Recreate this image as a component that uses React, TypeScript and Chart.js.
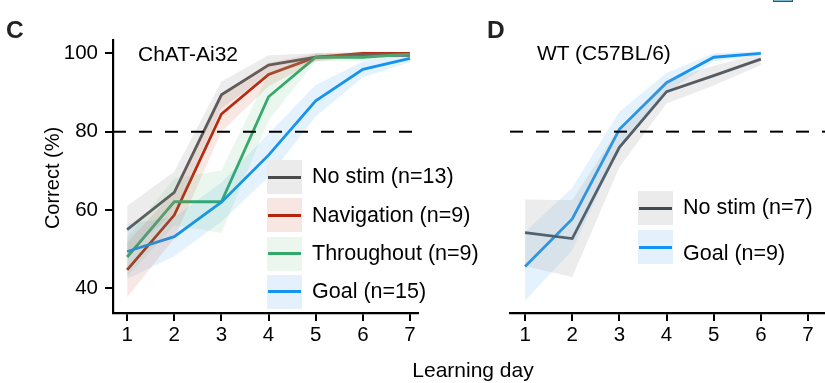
import React, { useEffect, useRef } from "react";
import { Chart, registerables } from "chart.js";

Chart.register(...registerables);

// ---------- data ----------
const leftDays = [1, 2, 3, 4, 5, 6, 7];
const rightDays = [1, 2, 3, 4, 5, 6];
const xTickLabels = [1, 2, 3, 4, 5, 6, 7];
const yTickLabels = [40, 60, 80, 100];
const criterion = 80;

// Panel C (ChAT-Ai32)
const cNoStim = [55, 64.5, 89.4, 97, 99, 99.5, 99.5];
const cNoStimSem = [6, 5.3, 3.4, 2.5, 1, 0.5, 0.5];
const cNavigation = [44.7, 58.7, 84.5, 94.6, 99, 100, 100];
const cNavigationSem = [7, 6, 4.5, 3, 1, 0.4, 0.3];
const cThroughout = [48, 62.1, 62.1, 88.9, 99, 99, 99.8];
const cThroughoutSem = [5, 6, 8, 6, 1, 1, 0.5];
const cGoal = [49.4, 53.2, 62, 74, 87.9, 95.9, 98.7];
const cGoalSem = [7, 5, 5, 5.5, 4, 2, 1];

// Panel D (WT C57BL/6)
const dNoStim = [54.2, 52.7, 76, 90.2, 94.3, 98.5];
const dNoStimSem = [8.5, 9.8, 5, 3, 2.5, 1.5];
const dGoal = [45.6, 57.7, 80.6, 92.5, 99, 100];
const dGoalSem = [8.8, 8, 4.5, 2.5, 1, 0.5];

const leftLegend = ["No stim (n=13)", "Navigation (n=9)", "Throughout (n=9)", "Goal (n=15)"];
const rightLegend = ["No stim (n=7)", "Goal (n=9)"];

// ---------- styles ----------
const FONT = "'Liberation Sans', Arial, Helvetica, sans-serif";
const COL = {
  gray: "#4a4a4a",
  grayD: "#434a50",
  red: "#b3260c",
  green: "#34a86a",
  blue: "#1493f0",
};
const BAND = {
  gray: "rgba(160,160,160,0.2)",
  red: "rgba(200,80,50,0.13)",
  green: "rgba(60,180,100,0.11)",
  blue: "rgba(30,150,240,0.12)",
};
const BOX = {
  gray: "#ebebeb",
  red: "#f7e6e1",
  green: "#eaf6ee",
  blue: "#e4f1fc",
};

function pts(days: number[], vals: number[]) {
  return days.map((d, i) => ({ x: d, y: vals[i] }));
}

function bandSets(days: number[], vals: number[], sem: number[], color: string) {
  return [
    {
      data: pts(days, vals.map((v, i) => Math.min(100.6, v + sem[i]))),
      borderWidth: 0,
      pointRadius: 0,
      fill: false,
      tension: 0,
    },
    {
      data: pts(days, vals.map((v, i) => v - sem[i])),
      borderWidth: 0,
      pointRadius: 0,
      fill: "-1",
      backgroundColor: color,
      tension: 0,
    },
  ];
}

function lineSet(days: number[], vals: number[], color: string) {
  return {
    data: pts(days, vals),
    borderColor: color,
    borderWidth: 2.8,
    pointRadius: 0,
    fill: false,
    tension: 0,
  };
}

const dashedPlugin = {
  id: "criterionLine",
  afterDatasetsDraw(chart: any) {
    const { ctx, chartArea, scales } = chart;
    const y = scales.y.getPixelForValue(criterion);
    ctx.save();
    ctx.strokeStyle = "#000";
    ctx.lineWidth = 2;
    ctx.setLineDash([13, 13]);
    ctx.beginPath();
    ctx.moveTo(chartArea.left, y);
    ctx.lineTo(chartArea.right, y);
    ctx.stroke();
    ctx.restore();
  },
};

function makeOptions(xMin: number, xMax: number, showY: boolean, padLeft: number, padRight: number) {
  return {
    responsive: false,
    animation: false as const,
    maintainAspectRatio: false,
    layout: { padding: { left: padLeft, right: padRight, top: 40, bottom: 0 } },
    plugins: { legend: { display: false }, tooltip: { enabled: false } },
    scales: {
      x: {
        type: "linear" as const,
        min: xMin,
        max: xMax,
        afterBuildTicks: (s: any) => {
          s.ticks = xTickLabels.map((v) => ({ value: v }));
        },
        afterFit: (s: any) => {
          s.height = 70;
        },
        ticks: {
          color: "#000",
          font: { family: FONT, size: 20.5 },
          padding: 2,
          maxRotation: 0,
          autoSkip: false,
        },
        grid: {
          display: true,
          drawOnChartArea: false,
          drawTicks: true,
          tickLength: 8,
          color: "#000",
          lineWidth: 2,
        },
        border: { display: true, color: "#000", width: 2.2 },
      },
      y: {
        type: "linear" as const,
        display: showY,
        min: 33.7,
        max: 103.4,
        afterBuildTicks: (s: any) => {
          s.ticks = yTickLabels.map((v) => ({ value: v }));
        },
        afterFit: (s: any) => {
          s.width = showY ? 113 : 0;
        },
        ticks: {
          color: "#000",
          font: { family: FONT, size: 20.5 },
          padding: 7,
        },
        grid: {
          display: true,
          drawOnChartArea: false,
          drawTicks: true,
          tickLength: 8,
          color: "#000",
          lineWidth: 2,
        },
        border: { display: true, color: "#000", width: 2.2 },
      },
    },
  };
}

function Legend({
  left,
  top,
  rows,
  colors,
  spacing,
  textShift,
}: {
  left: number;
  top: number;
  rows: string[];
  colors: (keyof typeof COL)[];
  spacing: number;
  textShift: number[];
}) {
  return (
    <>
      {rows.map((r, i) => {
        const cy = top + i * spacing;
        const key = colors[i];
        const boxKey = (key === "grayD" ? "gray" : key) as keyof typeof BOX;
        return (
          <React.Fragment key={r}>
            <div
              style={{
                position: "absolute",
                left,
                top: cy - 17,
                width: 35,
                height: 34,
                background: BOX[boxKey],
              }}
            />
            <div
              style={{
                position: "absolute",
                left: left + 1,
                top: cy - 1.5,
                width: 33,
                height: 3,
                background: COL[key],
              }}
            />
            <div
              style={{
                position: "absolute",
                left: left + 45,
                top: cy + textShift[i] - 0.49 * 21.5,
                fontFamily: FONT,
                fontSize: 21.5,
                lineHeight: "21.5px",
                whiteSpace: "nowrap",
                color: "#000",
              }}
            >
              {r}
            </div>
          </React.Fragment>
        );
      })}
    </>
  );
}

function Txt({ x, y, size, children, bold }: { x: number; y: number; size: number; children: string; bold?: boolean }) {
  return (
    <div
      style={{
        position: "absolute",
        left: x,
        top: y - 0.49 * size,
        fontFamily: FONT,
        fontSize: size,
        lineHeight: `${size}px`,
        fontWeight: bold ? 700 : 400,
        whiteSpace: "nowrap",
        color: bold ? "#222" : "#000",
      }}
    >
      {children}
    </div>
  );
}

export default function App() {
  const leftRef = useRef<HTMLCanvasElement>(null);
  const rightRef = useRef<HTMLCanvasElement>(null);

  useEffect(() => {
    const left = new Chart(leftRef.current as HTMLCanvasElement, {
      type: "line",
      data: {
        datasets: [
          ...bandSets(leftDays, cNoStim, cNoStimSem, BAND.gray),
          ...bandSets(leftDays, cNavigation, cNavigationSem, BAND.red),
          ...bandSets(leftDays, cThroughout, cThroughoutSem, BAND.green),
          ...bandSets(leftDays, cGoal, cGoalSem, BAND.blue),
          lineSet(leftDays, cGoal, COL.blue),
          lineSet(leftDays, cThroughout, COL.green),
          lineSet(leftDays, cNoStim, COL.gray),
          lineSet(leftDays, cNavigation, COL.red),
        ] as any,
      },
      options: makeOptions(0.7, 7.17, true, 0, 2) as any,
      plugins: [dashedPlugin],
    });
    const right = new Chart(rightRef.current as HTMLCanvasElement, {
      type: "line",
      data: {
        datasets: [
          ...bandSets(rightDays, dNoStim, dNoStimSem, BAND.gray),
          ...bandSets(rightDays, dGoal, dGoalSem, BAND.blue),
          lineSet(rightDays, dNoStim, COL.grayD),
          lineSet(rightDays, dGoal, COL.blue),
        ] as any,
      },
      options: makeOptions(0.68, 7.36, false, 90, 0) as any,
      plugins: [dashedPlugin],
    });
    return () => {
      left.destroy();
      right.destroy();
    };
  }, []);

  return (
    <div style={{ position: "absolute", left: 0, top: 0, width: 825, height: 383, background: "#fff", overflow: "hidden" }}>
      <canvas ref={leftRef} width={420} height={383} style={{ position: "absolute", left: 0, top: 0, width: 420, height: 383 }} />
      <canvas ref={rightRef} width={405} height={383} style={{ position: "absolute", left: 420, top: 0, width: 405, height: 383 }} />

      <Txt x={6} y={30} size={24.5} bold>C</Txt>
      <Txt x={487} y={30} size={24.5} bold>D</Txt>
      <Txt x={138} y={53.5} size={21}>ChAT-Ai32</Txt>
      <Txt x={537} y={52.5} size={21}>WT (C57BL/6)</Txt>

      <div
        style={{
          position: "absolute",
          left: 52 - 80,
          top: 178 - 12,
          width: 160,
          height: 24,
          lineHeight: "24px",
          textAlign: "center",
          fontFamily: FONT,
          fontSize: 20,
          color: "#000",
          transform: "rotate(-90deg)",
        }}
      >
        Correct (%)
      </div>
      <div
        style={{
          position: "absolute",
          left: 473 - 100,
          top: 370 - 12,
          width: 200,
          height: 24,
          lineHeight: "24px",
          textAlign: "center",
          fontFamily: FONT,
          fontSize: 21,
          color: "#000",
        }}
      >
        Learning day
      </div>

      <Legend left={267} top={177} rows={leftLegend} colors={["gray", "red", "green", "blue"]} spacing={38.3} textShift={[0, 0, 0, 0]} />
      <Legend left={638} top={208} rows={rightLegend} colors={["grayD", "blue"]} spacing={39} textShift={[0, 7]} />

      <div style={{ position: "absolute", left: 773, top: -2, width: 20, height: 4, background: "#7ab6d2", border: "1px solid #33556a", boxSizing: "border-box" }} />
    </div>
  );
}
